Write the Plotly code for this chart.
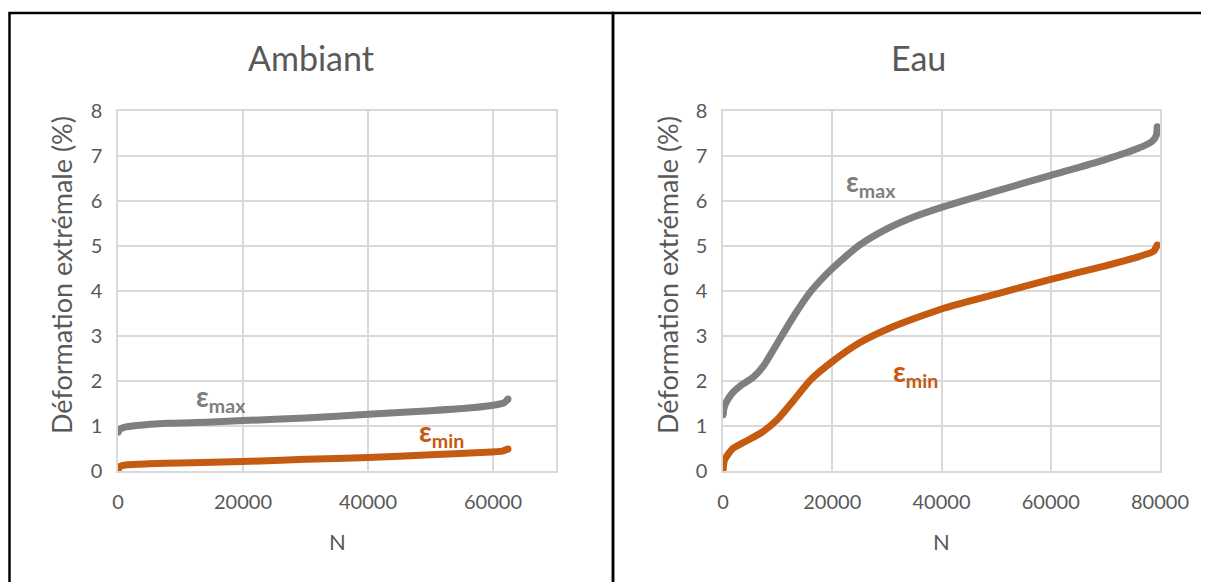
import plotly.graph_objects as go

# ---------------- data ----------------
amb_n_max = [0, 300, 1000, 3000, 8000, 15000, 20000, 30000, 40000, 50000, 57000, 60000, 61800, 62400]
amb_e_max = [0.86, 0.93, 0.97, 1.01, 1.06, 1.09, 1.12, 1.18, 1.26, 1.34, 1.41, 1.46, 1.52, 1.60]

amb_n_min = [0, 300, 1500, 5000, 10000, 20000, 30000, 40000, 50000, 58000, 61500, 62400]
amb_e_min = [0.03, 0.10, 0.14, 0.16, 0.18, 0.21, 0.26, 0.30, 0.36, 0.41, 0.44, 0.49]

eau_n_max = [0, 300, 1500, 3500, 5500, 7500, 10000, 13000, 16000, 20000, 25000, 30000,
             35000, 40000, 50000, 60000, 70000, 76000, 78500, 79300, 79500]
eau_e_max = [1.25, 1.45, 1.70, 1.92, 2.08, 2.35, 2.85, 3.45, 3.98, 4.50, 5.02, 5.38,
             5.65, 5.86, 6.22, 6.57, 6.92, 7.17, 7.32, 7.45, 7.65]

eau_n_min = [0, 300, 1800, 4000, 7000, 10000, 13000, 16000, 20000, 25000, 31000, 40000,
             50000, 60000, 70000, 76000, 78800, 79500]
eau_e_min = [0.02, 0.25, 0.50, 0.65, 0.85, 1.15, 1.58, 2.02, 2.43, 2.85, 3.20, 3.60,
             3.93, 4.26, 4.56, 4.76, 4.88, 5.02]

y_ticks = [0, 1, 2, 3, 4, 5, 6, 7, 8]
amb_x_ticks = [0, 20000, 40000, 60000]
eau_x_ticks = [0, 20000, 40000, 60000, 80000]
titles = ["Ambiant", "Eau"]
y_title = "Déformation extrémale (%)"
x_title = "N"

# ---------------- styling ----------------
W, H = 1209, 582
OFF = 8  # page body margin in the browser
FONT = "Lato"
TXT = "#595959"
GRID = "#D9D9D9"
GREY = "#7F7F7F"
ORANGE = "#C55A11"


def px(x):
    return (x - OFF) / W


def py(y):
    return 1 - (y - OFF) / H


fig = go.Figure()

for n, e, col, ax in [
    (amb_n_max, amb_e_max, GREY, ("x", "y")),
    (amb_n_min, amb_e_min, ORANGE, ("x", "y")),
    (eau_n_max, eau_e_max, GREY, ("x2", "y2")),
    (eau_n_min, eau_e_min, ORANGE, ("x2", "y2")),
]:
    fig.add_trace(go.Scatter(
        x=n, y=e, mode="lines", xaxis=ax[0], yaxis=ax[1],
        line=dict(color=col, width=7, shape="spline", smoothing=0.6),
        showlegend=False, hoverinfo="skip"))
    # rounded end caps
    fig.add_trace(go.Scatter(
        x=[n[0], n[-1]], y=[e[0], e[-1]], mode="markers", xaxis=ax[0], yaxis=ax[1],
        marker=dict(color=col, size=7), showlegend=False, hoverinfo="skip"))

axis_common = dict(
    showgrid=True, gridcolor=GRID, gridwidth=1.5,
    showline=True, linecolor=GRID, linewidth=1.5, mirror=True,
    zeroline=False, ticks="", automargin=False,
    tickfont=dict(family=FONT, size=20, color=TXT),
    tickformat="d",
)

fig.update_layout(
    width=W, height=H,
    margin=dict(l=0, r=0, t=0, b=0, pad=0, autoexpand=False),
    showlegend=False,
    paper_bgcolor="white", plot_bgcolor="white",
    xaxis=dict(domain=[px(118), px(555.5)], range=[0, 70000], tickvals=amb_x_ticks,
               anchor="y", ticklabelstandoff=12, **axis_common),
    yaxis=dict(domain=[py(471), py(111)], range=[0, 8], tickvals=y_ticks,
               anchor="x", ticklabelstandoff=10, **axis_common),
    xaxis2=dict(domain=[px(723), px(1160)], range=[0, 80000], tickvals=eau_x_ticks,
                anchor="y2", ticklabelstandoff=12, **axis_common),
    yaxis2=dict(domain=[py(471), py(111)], range=[0, 8], tickvals=y_ticks,
                anchor="x2", ticklabelstandoff=10, **axis_common),
)

# panel borders
fig.add_shape(type="rect", xref="paper", yref="paper",
              x0=px(9.5), x1=px(613), y0=py(620), y1=py(13),
              line=dict(color="black", width=2.5))
fig.add_shape(type="rect", xref="paper", yref="paper",
              x0=px(613), x1=px(1260), y0=py(620), y1=py(13),
              line=dict(color="black", width=2.5))

# titles
for t, cx in zip(titles, [311, 918]):
    fig.add_annotation(text=t, xref="paper", yref="paper", x=px(cx), y=py(57),
                       showarrow=False, xanchor="center", yanchor="middle",
                       font=dict(family=FONT, size=34, color=TXT))

# axis titles
for cx in [337, 941]:
    fig.add_annotation(text=x_title, xref="paper", yref="paper", x=px(cx), y=py(541),
                       showarrow=False, xanchor="center", yanchor="middle",
                       font=dict(family=FONT, size=22, color=TXT))
for cx in [62, 668]:
    fig.add_annotation(text=y_title, xref="paper", yref="paper", x=px(cx), y=py(275),
                       showarrow=False, xanchor="center", yanchor="middle", textangle=-90,
                       font=dict(family=FONT, size=27, color=TXT))

# curve labels
labels = [
    ("x", "y", 16480, 1.62, "max", GREY),
    ("x", "y", 51680, 0.84, "min", ORANGE),
    ("x2", "y2", 27090, 6.40, "max", GREY),
    ("x2", "y2", 35330, 2.18, "min", ORANGE),
]
for xr, yr, xv, yv, sub, col in labels:
    fig.add_annotation(text=f"<b>ε<sub>{sub}</sub></b>", xref=xr, yref=yr, x=xv, y=yv,
                       showarrow=False, xanchor="center", yanchor="middle",
                       font=dict(family=FONT, size=28, color=col))

fig.write_html("out.html")
